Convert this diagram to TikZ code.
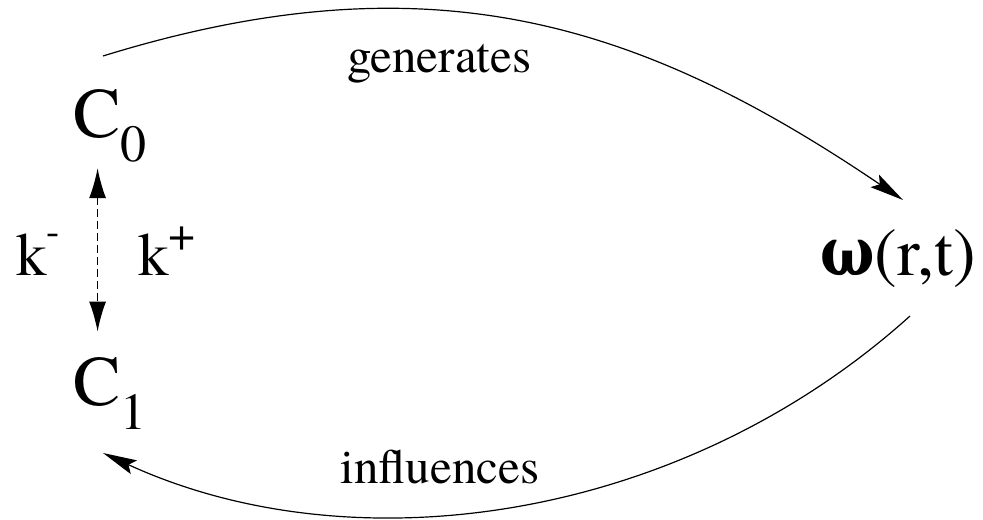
\documentclass[tikz,border=0pt]{standalone}
\usepackage{fontspec}
\setmainfont{texgyretermes}[Extension=.otf, UprightFont=*-regular, BoldFont=*-bold]
\newfontfamily\greekfont{DejaVu Serif}
\usetikzlibrary{arrows.meta}
\newcommand{\lowsub}[1]{\raisebox{-12pt}{\fontsize{26pt}{26pt}\selectfont #1}}
\newcommand{\highsup}[2]{\raisebox{#1}{\fontsize{24pt}{24pt}\selectfont #2}}

\begin{document}
\begin{tikzpicture}[x=0.5pt, y=-0.5pt,
	state/.style={anchor=base west, inner sep=0pt, font=\fontsize{35.5pt}{40pt}\selectfont},
	rate/.style={anchor=base west, inner sep=0pt, font=\fontsize{30.5pt}{34pt}\selectfont},
	word/.style={anchor=base west, inner sep=0pt, font=\fontsize{24.5pt}{28pt}\selectfont},
	flow/.style={line width=0.6pt, -{Stealth[length=17pt, width=7.5pt, inset=3pt]}}]
\useasboundingbox (0,0) rectangle (983,519);
\node[state] (c0) at (73,137) {C\lowsub{0}};
\node[state] (c1) at (73,405) {C\lowsub{1}};
\node[rate] (kminus) at (16,275) {k\highsup{15.5pt}{\fontsize{20pt}{20pt}\selectfont -}};
\node[rate] (kplus) at (138,275) {k\highsup{12.5pt}{+}};
\node[state, font=\fontsize{34pt}{38pt}\selectfont] (omega) at (820,275) {\scalebox{0.84}[1]{\greekfont\bfseries ω}(r,t)};
\node[word] (gen) at (347,73) {generates};
\node[word] (infl) at (340,483) {influences};
% free ends of the two loops
\coordinate (gen0) at (103,56);
\coordinate (gen1) at (903,200);
\coordinate (infl0) at (910,316);
\coordinate (infl1) at (103,453);
\draw[flow] (gen0) .. controls (430,-45) and (640,22) .. (gen1);
\draw[flow] (infl0) .. controls (680,523) and (353,568) .. (infl1);
\draw[line width=0.8pt, dash pattern=on 4pt off 2pt, {Latex[length=15pt, width=8.5pt]}-{Latex[length=15pt, width=8.5pt]}]
	([xshift=-6.25pt, yshift=-3pt]c0.south) -- ([xshift=-6.25pt, yshift=12.5pt]c1.north);
\end{tikzpicture}
\end{document}
